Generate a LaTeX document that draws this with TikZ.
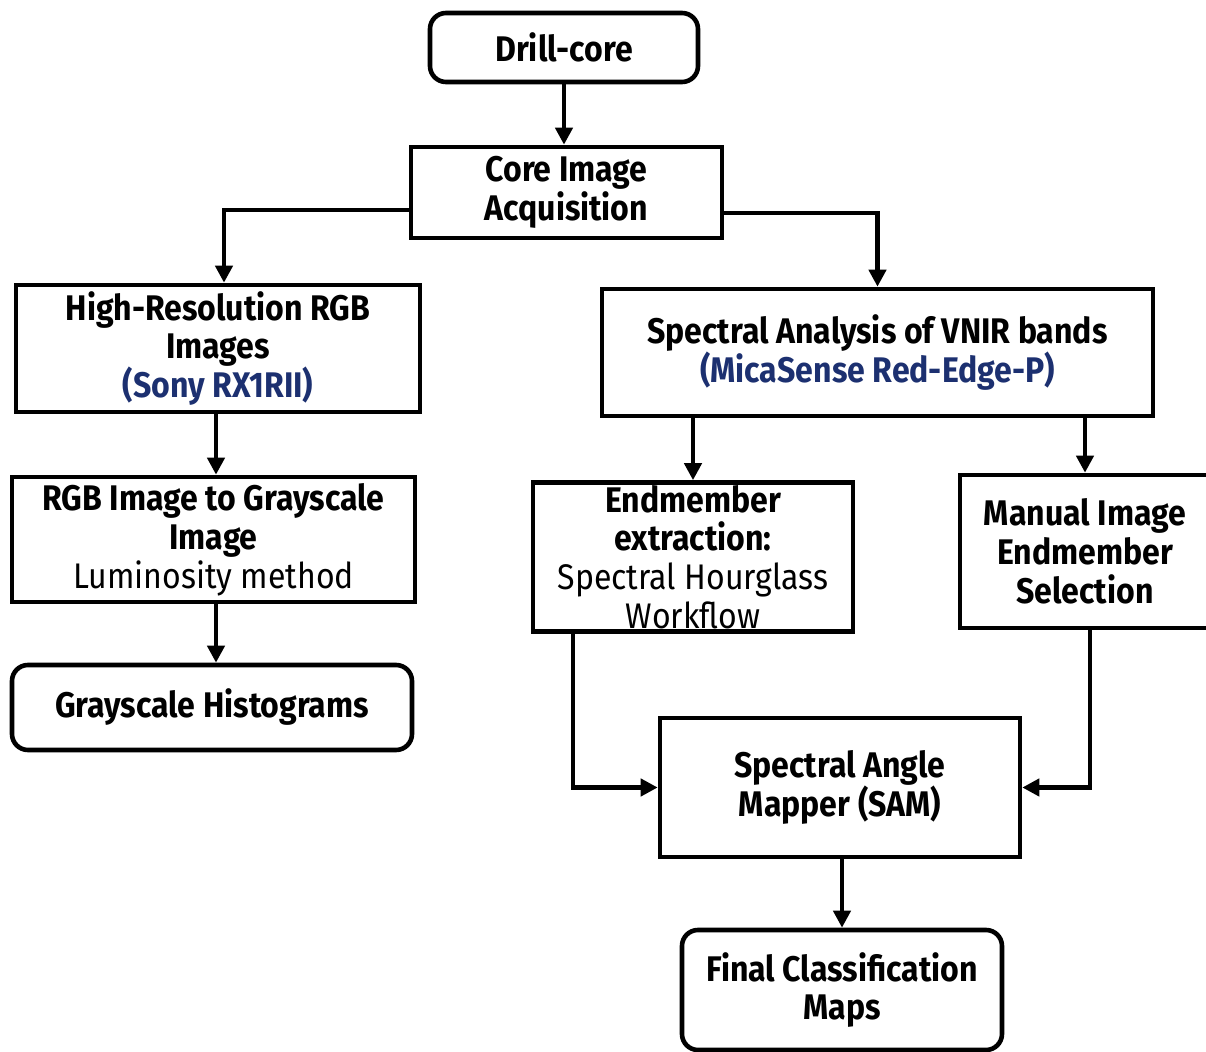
\documentclass[tikz,border=0pt]{standalone}
\usepackage{fontspec}
\setmainfont{Fira Sans}[FakeStretch=0.9]
\usepackage{tikz}
\usetikzlibrary{positioning}
\usetikzlibrary{arrows.meta}
\definecolor{camblue}{RGB}{28,48,112}

\begin{document}
\begin{tikzpicture}[x=0.5pt,y=-0.5pt,
  box/.style={draw,line width=2.3pt,align=center,inner sep=0pt,font=\fontsize{17.8}{19.4}\selectfont\bfseries},
  rbox/.style={box,rounded corners=8pt},
  arr/.style={line width=2.3pt,-{Triangle[length=8.5pt,width=8.5pt]}},
  cam/.style={text=camblue}]
\useasboundingbox (0,0) rectangle (1206,1052);
\node[rbox,minimum width=134pt,minimum height=34.5pt] (drill) at (564,47.5) {Drill-core};
\node[box,minimum width=155.5pt,minimum height=45.5pt] (acq) at (566.5,192.5) {Core Image\\ Acquisition};
\node[box,minimum width=202pt,minimum height=63.5pt] (rgb) at (218,348.5) {High-Resolution RGB\\ Images\\ \textcolor{camblue}{(Sony RX1RII)}};
\node[box,minimum width=275.5pt,minimum height=63.5pt] (spec) at (877.5,352.5) {Spectral Analysis of VNIR bands\\ \textcolor{camblue}{(MicaSense Red-Edge-P)}};
\node[box,minimum width=201.5pt,minimum height=62.5pt] (gray) at (213.5,539.5) {RGB Image to Grayscale\\ Image\\ \mdseries Luminosity method};
\node[rbox,minimum width=200pt,minimum height=42.5pt] (hist) at (212,707.5) {Grayscale Histograms};
\node[box,minimum width=160pt,minimum height=74.5pt] (endm) at (693,557) {Endmember\\ extraction:\\ \mdseries Spectral Hourglass\\ \mdseries Workflow};
\node[box,minimum width=125pt,minimum height=76.5pt] (manual) at (1085,551.5) {Manual Image\\ Endmember\\ Selection};
\node[box,minimum width=180pt,minimum height=69.5pt] (sam) at (840,787.5) {Spectral Angle\\ Mapper (SAM)};
\node[rbox,minimum width=160pt,minimum height=60pt] (final) at (842,990) {Final Classification\\ Maps};

\draw[arr] (drill.south) -- (drill.south |- acq.north);
\draw[arr] ([yshift=-8.75pt]acq.west) -| ([xshift=3pt]rgb.north);
\draw[arr] ([yshift=-10.25pt]acq.east) -| (spec.north);
\draw[arr] ([xshift=-1pt]rgb.south) -- ([xshift=1.25pt]gray.north);
\draw[arr] ([xshift=1.25pt]gray.south) -- ([xshift=2pt]hist.north);
\draw[arr] (spec.south -| endm.north) -- (endm.north);
\draw[arr] (spec.south -| manual.north) -- (manual.north);
\draw[arr] ([xshift=-60pt]endm.south) |- (sam.west);
\draw[arr] ([xshift=2.5pt]manual.south) |- (sam.east);
\draw[arr] (sam.south -| final.north) -- (final.north);
\end{tikzpicture}
\end{document}
